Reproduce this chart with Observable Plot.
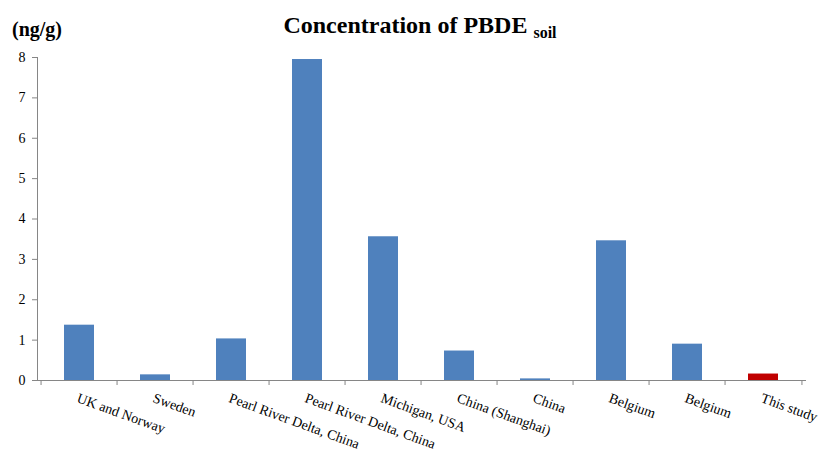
<!DOCTYPE html>
<html><head><meta charset="utf-8">
<script src="https://cdn.jsdelivr.net/npm/d3@7"></script>
<script src="https://cdn.jsdelivr.net/npm/@observablehq/plot@0.6"></script>
<style>
body{margin:0;background:#fff;font-family:"Liberation Serif","Times New Roman",serif;}
#wrap{position:relative;width:832px;height:456px;overflow:hidden;}
#head{position:relative;height:44px;}
#title{position:absolute;left:8px;right:0;top:13px;text-align:center;font-weight:bold;font-size:24px;line-height:24px;color:#000;white-space:nowrap;}
#title .sub{font-size:16px;position:relative;top:5px;margin-left:6px;}
#unit{position:absolute;left:12px;top:19px;font-weight:bold;font-size:20px;line-height:20px;color:#000;}
#chart svg, #chart svg text{font-family:"Liberation Serif","Times New Roman",serif !important;}
</style>
</head><body>
<div id="wrap">
  <div id="head">
    <div id="title">Concentration of PBDE<span class="sub">soil</span></div>
    <div id="unit">(ng/g)</div>
  </div>
  <div id="chart"></div>
</div>
<script>
const categories = ["UK and Norway","Sweden","Pearl River Delta, China","Pearl River Delta, China","Michigan, USA","China (Shanghai)","China","Belgium","Belgium","This study"];
const values = [1.37, 0.14, 1.03, 7.95, 3.56, 0.73, 0.04, 3.46, 0.90, 0.16];
const yTicks = [0,1,2,3,4,5,6,7,8];

const data = categories.map((c, i) => ({i, label: c, value: values[i]}));
const idx = data.map(d => d.i);
const W = 832, H = 412, ML = 37, MR = 26, MT = 13, MB = 76;
const step = (W - ML - MR) / categories.length;
const axisColor = "#868686";
const serif = "Liberation Serif";

const chart = Plot.plot({
  width: W, height: H,
  marginLeft: ML, marginRight: MR, marginTop: MT, marginBottom: MB,
  style: {fontFamily: serif, fontSize: "14px", color: "#000", background: "#fff"},
  x: {type: "band", domain: idx, paddingInner: 0.6, paddingOuter: 0.3, axis: null},
  y: {domain: [0, 8], axis: null},
  marks: [
    Plot.barY(data, {x: "i", y: "value", fill: d => d.label === "This study" ? "#C00000" : "#4F81BD"}),
    Plot.frame({anchor: "left", stroke: axisColor}),
    Plot.ruleY([0], {stroke: axisColor}),
    Plot.axisY({ticks: yTicks, tickSize: 5, tickPadding: 7, stroke: axisColor, fill: "#000", label: null, fontSize: 14, fontFamily: serif}),
    Plot.axisX({ticks: idx, tickSize: 5, tickFormat: () => "", dx: -step / 2, stroke: axisColor, label: null}),
    Plot.axisX({ticks: [idx[idx.length - 1]], tickSize: 5, tickFormat: () => "", dx: step / 2, stroke: axisColor, label: null}),
    Plot.axisX({ticks: idx, tickSize: 0, tickPadding: 12, tickRotate: 20, textAnchor: "start", lineAnchor: "top",
      tickFormat: i => categories[i], fill: "#000", label: null, fontSize: 14, fontFamily: serif})
  ]
});
document.getElementById("chart").appendChild(chart);
</script>
</body></html>
